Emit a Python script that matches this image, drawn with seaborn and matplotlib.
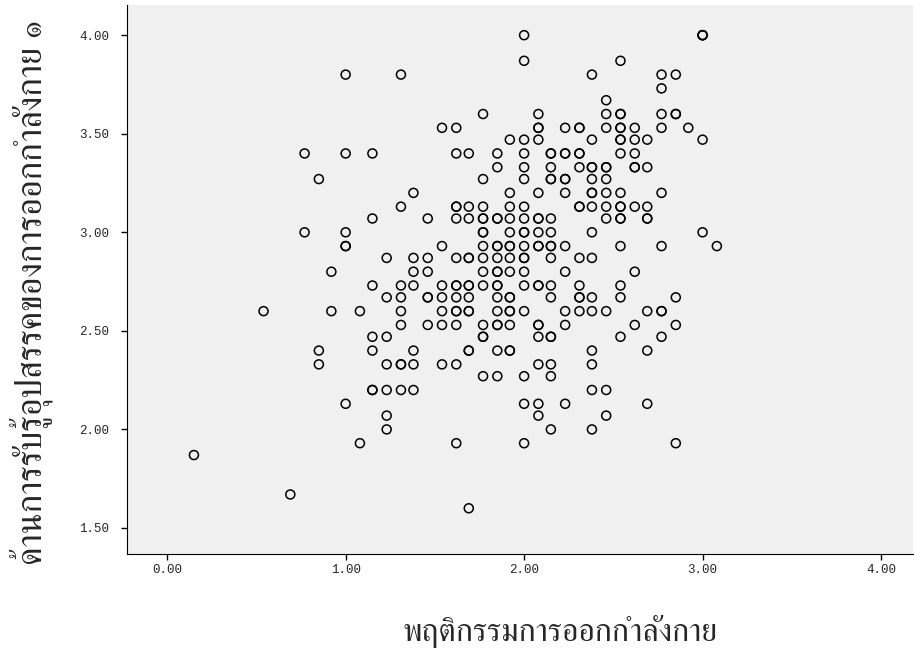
import pandas as pd
import matplotlib
matplotlib.use("Agg")
import matplotlib.pyplot as plt
import seaborn as sns

# scores, one line per y level
behavior = [
    2.00, 3.00, 3.00, 3.00,
    2.00, 2.54,
    1.00, 1.31, 2.38, 2.77, 2.85,
    2.77,
    2.46,
    1.77, 2.08, 2.46, 2.54, 2.54, 2.77, 2.85, 2.85,
    1.54, 1.62, 2.08, 2.08, 2.23, 2.31, 2.31, 2.46, 2.54, 2.54, 2.62, 2.77, 2.92,
    1.92, 2.00, 2.08, 2.38, 2.54, 2.54, 2.62, 2.69, 3.00,
    0.77, 1.00, 1.15, 1.62, 1.69, 1.85, 2.00, 2.15, 2.15, 2.23, 2.23, 2.31, 2.31, 2.54, 2.62,
    1.85, 2.00, 2.15, 2.31, 2.38, 2.38, 2.46, 2.46, 2.62, 2.62, 2.69,
    0.85, 1.77, 2.00, 2.15, 2.15, 2.23, 2.23, 2.38, 2.46,
    1.38, 1.92, 2.08, 2.23, 2.38, 2.38, 2.46, 2.54, 2.77,
    1.31, 1.62, 1.62, 1.69, 1.77, 1.92, 2.00, 2.31, 2.31, 2.38, 2.46, 2.54, 2.54, 2.62, 2.69,
    1.15, 1.46, 1.62, 1.69, 1.77, 1.77, 1.85, 1.85, 1.92, 2.00, 2.08, 2.08, 2.15, 2.46, 2.54, 2.54, 2.69, 2.69,
    0.77, 1.00, 1.77, 1.77, 1.92, 2.00, 2.00, 2.08, 2.15, 2.38, 3.00,
    1.00, 1.00, 1.54, 1.77, 1.85, 1.85, 1.92, 1.92, 2.00, 2.08, 2.08, 2.15, 2.15, 2.23, 2.54, 2.77, 3.08,
    1.23, 1.38, 1.46, 1.62, 1.69, 1.69, 1.77, 1.85, 1.92, 2.00, 2.00, 2.15, 2.31, 2.38,
    0.92, 1.38, 1.46, 1.77, 1.85, 1.85, 1.92, 2.00, 2.23, 2.62,
    1.15, 1.31, 1.38, 1.54, 1.62, 1.62, 1.69, 1.69, 1.77, 1.85, 1.85, 2.00, 2.08, 2.08, 2.15, 2.31, 2.54,
    1.23, 1.31, 1.46, 1.46, 1.54, 1.62, 1.69, 1.85, 1.92, 1.92, 2.15, 2.31, 2.31, 2.38, 2.54, 2.85,
    0.54, 0.92, 1.08, 1.31, 1.54, 1.62, 1.62, 1.69, 1.69, 1.85, 1.92, 1.92, 2.00, 2.23, 2.31, 2.38, 2.46, 2.69, 2.77, 2.77,
    1.31, 1.46, 1.54, 1.62, 1.77, 1.85, 1.85, 1.92, 2.08, 2.08, 2.23, 2.62, 2.85,
    1.15, 1.23, 1.77, 1.77, 2.08, 2.15, 2.15, 2.54, 2.77,
    0.85, 1.15, 1.38, 1.69, 1.69, 1.85, 1.92, 1.92, 2.38, 2.69,
    0.85, 1.23, 1.31, 1.31, 1.38, 1.54, 1.62, 2.08, 2.15, 2.38,
    1.77, 1.85, 2.00, 2.15,
    1.15, 1.15, 1.23, 1.31, 1.38, 2.38, 2.46,
    1.00, 2.00, 2.08, 2.23, 2.69,
    1.23, 2.08, 2.46,
    1.23, 2.15, 2.38,
    1.08, 1.62, 2.00, 2.85,
    0.15,
    0.69,
    1.69,
]
barrier = [
    4.00, 4.00, 4.00, 4.00,
    3.87, 3.87,
    3.80, 3.80, 3.80, 3.80, 3.80,
    3.73,
    3.67,
    3.60, 3.60, 3.60, 3.60, 3.60, 3.60, 3.60, 3.60,
    3.53, 3.53, 3.53, 3.53, 3.53, 3.53, 3.53, 3.53, 3.53, 3.53, 3.53, 3.53, 3.53,
    3.47, 3.47, 3.47, 3.47, 3.47, 3.47, 3.47, 3.47, 3.47,
    3.40, 3.40, 3.40, 3.40, 3.40, 3.40, 3.40, 3.40, 3.40, 3.40, 3.40, 3.40, 3.40, 3.40, 3.40,
    3.33, 3.33, 3.33, 3.33, 3.33, 3.33, 3.33, 3.33, 3.33, 3.33, 3.33,
    3.27, 3.27, 3.27, 3.27, 3.27, 3.27, 3.27, 3.27, 3.27,
    3.20, 3.20, 3.20, 3.20, 3.20, 3.20, 3.20, 3.20, 3.20,
    3.13, 3.13, 3.13, 3.13, 3.13, 3.13, 3.13, 3.13, 3.13, 3.13, 3.13, 3.13, 3.13, 3.13, 3.13,
    3.07, 3.07, 3.07, 3.07, 3.07, 3.07, 3.07, 3.07, 3.07, 3.07, 3.07, 3.07, 3.07, 3.07, 3.07, 3.07, 3.07, 3.07,
    3.00, 3.00, 3.00, 3.00, 3.00, 3.00, 3.00, 3.00, 3.00, 3.00, 3.00,
    2.93, 2.93, 2.93, 2.93, 2.93, 2.93, 2.93, 2.93, 2.93, 2.93, 2.93, 2.93, 2.93, 2.93, 2.93, 2.93, 2.93,
    2.87, 2.87, 2.87, 2.87, 2.87, 2.87, 2.87, 2.87, 2.87, 2.87, 2.87, 2.87, 2.87, 2.87,
    2.80, 2.80, 2.80, 2.80, 2.80, 2.80, 2.80, 2.80, 2.80, 2.80,
    2.73, 2.73, 2.73, 2.73, 2.73, 2.73, 2.73, 2.73, 2.73, 2.73, 2.73, 2.73, 2.73, 2.73, 2.73, 2.73, 2.73,
    2.67, 2.67, 2.67, 2.67, 2.67, 2.67, 2.67, 2.67, 2.67, 2.67, 2.67, 2.67, 2.67, 2.67, 2.67, 2.67,
    2.60, 2.60, 2.60, 2.60, 2.60, 2.60, 2.60, 2.60, 2.60, 2.60, 2.60, 2.60, 2.60, 2.60, 2.60, 2.60, 2.60, 2.60, 2.60, 2.60,
    2.53, 2.53, 2.53, 2.53, 2.53, 2.53, 2.53, 2.53, 2.53, 2.53, 2.53, 2.53, 2.53,
    2.47, 2.47, 2.47, 2.47, 2.47, 2.47, 2.47, 2.47, 2.47,
    2.40, 2.40, 2.40, 2.40, 2.40, 2.40, 2.40, 2.40, 2.40, 2.40,
    2.33, 2.33, 2.33, 2.33, 2.33, 2.33, 2.33, 2.33, 2.33, 2.33,
    2.27, 2.27, 2.27, 2.27,
    2.20, 2.20, 2.20, 2.20, 2.20, 2.20, 2.20,
    2.13, 2.13, 2.13, 2.13, 2.13,
    2.07, 2.07, 2.07,
    2.00, 2.00, 2.00,
    1.93, 1.93, 1.93, 1.93,
    1.87,
    1.67,
    1.60,
]

x_ticks = [0.00, 1.00, 2.00, 3.00, 4.00]
y_ticks = [1.50, 2.00, 2.50, 3.00, 3.50, 4.00]
x_title = "พฤติกรรมการออกกำลังกาย"
y_title = "ด้านการรับรู้อุปสรรคของการออกกำลังกาย ๑"

df = pd.DataFrame({"behavior": behavior, "barrier": barrier})

sns.set_style("ticks")
thai_font = ["FreeSerif", "DejaVu Serif"]

fig = plt.figure(figsize=(9.15, 6.51), dpi=100)
ax = fig.add_axes([0.139, 0.149, 0.859, 0.843])
ax.set_facecolor("#f0f0f0")

sns.scatterplot(data=df, x="behavior", y="barrier", ax=ax, marker="o",
                s=42, facecolor="none", edgecolor="black", linewidth=1.1)

ax.set_xlim(-0.224, 4.18)
ax.set_ylim(1.368, 4.152)
ax.set_xticks(x_ticks)
ax.set_yticks(y_ticks)
ax.set_xticklabels([f"{t:.2f}" for t in x_ticks], family="Liberation Mono")
ax.set_yticklabels([f"{t:.2f}" for t in y_ticks], family="Liberation Mono")
ax.tick_params(labelsize=9, length=4, width=1, color="black")
ax.tick_params(axis="x", pad=3)
ax.tick_params(axis="y", pad=9)
sns.despine(ax=ax)
for s in ["left", "bottom"]:
    ax.spines[s].set_color("black")
ax.set_xlabel("")
ax.set_ylabel("")

fig.text(560 / 915, 1 - 632 / 651, x_title, family=thai_font, fontsize=23,
         ha="center", va="center")
fig.text(31 / 915, 1 - 292 / 651, y_title, family=thai_font, fontsize=25,
         rotation=90, ha="center", va="center")

fig.savefig("out.png", dpi=100)
